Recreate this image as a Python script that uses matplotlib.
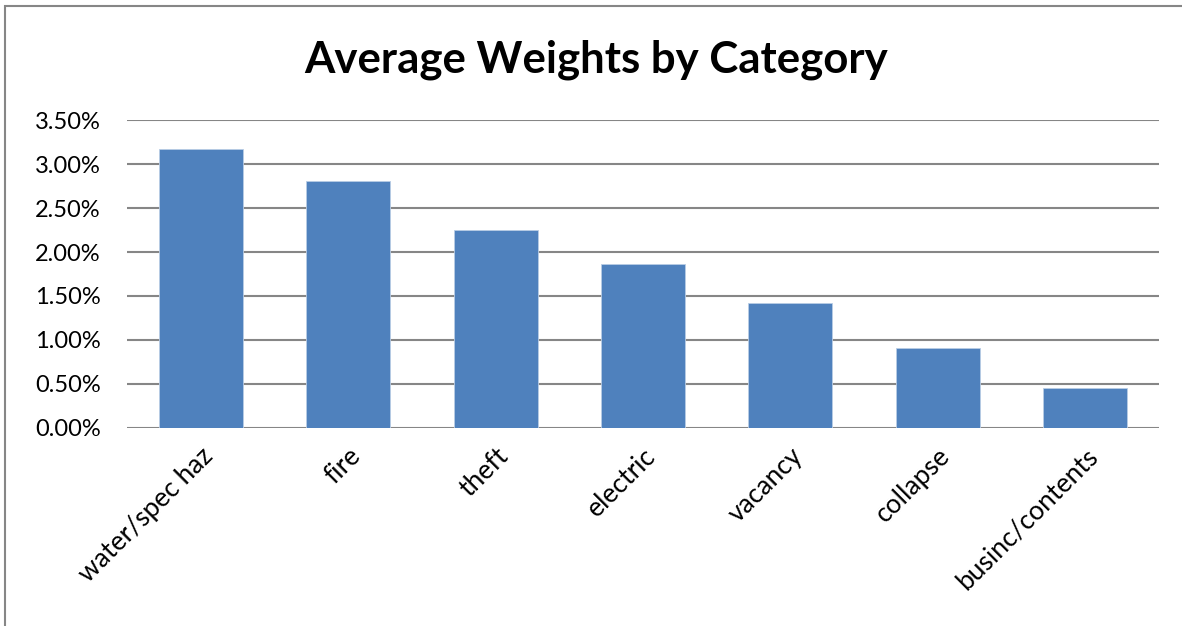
import matplotlib.pyplot as plt
from matplotlib.patches import Rectangle
from matplotlib.ticker import FuncFormatter
import numpy as np

categories = ['water/spec haz', 'fire', 'theft', 'electric', 'vacancy', 'collapse', 'businc/contents']
weights = [0.0317, 0.0281, 0.0225, 0.0186, 0.0142, 0.0091, 0.0046]
yticks = [0.0, 0.005, 0.010, 0.015, 0.020, 0.025, 0.030, 0.035]

plt.rcParams['font.family'] = ['Lato', 'DejaVu Sans']

fig = plt.figure(figsize=(11.82, 6.26), dpi=100)
ax = fig.add_axes([0.1074, 0.3163, 0.8731, 0.4920])

x = np.arange(len(categories))
ax.bar(x, weights, width=0.57, color='#4F81BD', edgecolor='#B9CDE5', linewidth=0.6, zorder=3)

ax.set_xlim(-0.5, len(categories) - 0.5)
ax.set_ylim(0, 0.035)
ax.set_yticks(yticks)
ax.yaxis.set_major_formatter(FuncFormatter(lambda v, p: '%.2f%%' % (v * 100)))
ax.grid(axis='y', color='#868686', linewidth=1.5, zorder=0)
for s in ax.spines.values():
    s.set_visible(False)
ax.tick_params(axis='y', length=0, pad=19, labelsize=17)
ax.tick_params(axis='x', length=0, pad=11, labelsize=19)
ax.set_xticks(x)
ax.set_xticklabels(categories, rotation=45, ha='right', rotation_mode='anchor')

fig.text(0.504, 0.905, 'Average Weights by Category', ha='center', va='center',
         fontsize=31.5, fontweight='bold')

# chart border (only left and top edges show in the crop)
fig.patches.append(Rectangle((0.004, -0.1), 1.2, 1.09, transform=fig.transFigure,
                             fill=False, edgecolor='#868686', linewidth=1.5))

fig.savefig('out.png', dpi=100)
